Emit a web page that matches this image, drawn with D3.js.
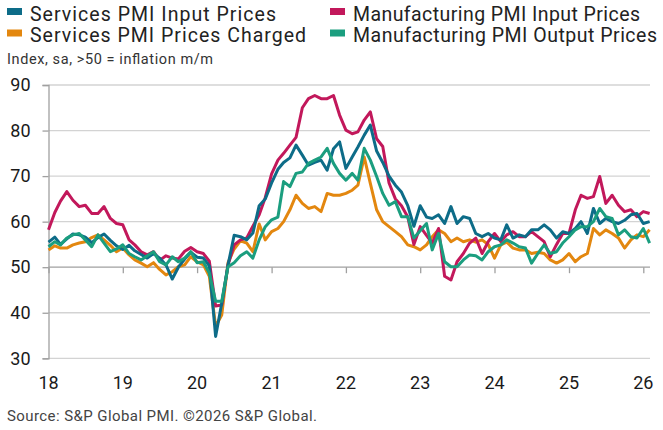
<!DOCTYPE html>
<html>
<head>
<meta charset="utf-8">
<script src="https://cdn.jsdelivr.net/npm/d3@7"></script>
<style>
  html, body { margin: 0; padding: 0; background: #fff; }
  svg { display: block; }
  text { font-family: Roboto, "Noto Sans", sans-serif; }
</style>
</head>
<body>
<svg id="chart" width="663" height="430"></svg>
<script>
// ---- Data (monthly, Jan 2018 .. Feb 2026) ----
const startMonth = "2018-01";
const yearTickLabels = ["18","19","20","21","22","23","24","25","26"];
const yTicks = [30, 40, 50, 60, 70, 80, 90];

const seriesNames = [
  "Services PMI Input Prices",
  "Manufacturing PMI Input Prices",
  "Services PMI Prices Charged",
  "Manufacturing PMI Output Prices"
];

const servicesInput = [
  55.5,56.6,55.0,56.2,57.3,57.1,56.6,55.4,56.5,57.3,55.9,54.7,
  53.9,54.8,53.6,52.8,52.0,53.0,52.0,50.5,47.4,50.0,51.8,53.3,
  52.2,52.0,50.3,34.8,42.1,50.5,57.0,56.7,56.0,57.5,63.5,65.0,
  68.5,71.5,73.0,74.0,76.8,74.6,72.4,73.0,73.5,71.3,76.0,77.5,
  71.7,74.2,76.4,79.0,81.2,75.5,73.0,70.0,68.0,66.5,63.5,59.0,
  63.5,61.0,60.7,61.5,59.6,63.3,59.6,61.1,60.7,57.4,56.7,57.4,
  56.4,56.0,59.3,56.4,57.1,56.7,58.2,58.2,59.3,58.2,56.4,57.8,
  57.4,58.5,60.0,57.4,62.9,59.6,60.7,60.0,59.6,60.3,61.5,61.8,
  59.6,60.0
];
const mfgInput = [
  58.2,62.0,64.5,66.6,64.7,63.3,63.6,61.8,61.8,63.3,60.7,59.6,
  59.3,56.0,54.9,53.4,52.7,53.4,51.5,52.5,52.0,51.8,53.5,54.3,
  53.4,53.0,51.3,41.5,41.7,50.5,54.9,56.0,56.4,59.0,61.5,65.3,
  70.5,73.5,75.0,76.8,78.5,85.0,87.0,87.7,87.0,87.0,87.7,83.4,
  80.1,79.3,79.7,82.3,84.1,78.2,76.5,68.5,65.0,63.5,61.0,55.0,
  58.9,57.0,55.3,58.5,48.0,47.2,51.2,53.0,55.3,56.4,53.0,55.6,
  57.4,55.6,57.1,57.8,56.7,56.7,57.8,56.7,55.6,52.3,55.0,57.4,
  57.4,62.6,65.8,65.1,65.5,69.9,64.0,65.8,63.6,62.2,62.6,61.1,
  62.2,61.8
];
const servicesCharged = [
  53.8,54.7,54.2,54.2,54.9,55.3,55.6,56.5,57.1,56.0,54.8,53.4,
  54.2,52.7,51.6,50.9,50.1,51.0,49.5,48.3,49.0,50.1,50.5,52.3,
  51.2,50.5,48.0,37.0,39.5,51.0,54.0,55.8,55.3,53.4,59.5,56.0,
  57.8,58.5,60.0,62.6,65.8,64.0,62.9,63.3,62.2,66.2,65.8,65.8,
  66.2,66.9,68.0,74.2,68.4,62.6,60.0,58.9,57.8,56.7,54.9,54.5,
  53.8,54.9,56.7,58.2,57.4,55.6,56.4,55.6,56.0,55.5,56.0,55.0,
  52.0,54.9,55.5,54.2,53.8,53.8,53.0,53.3,53.0,51.6,50.9,51.6,
  53.0,51.2,52.3,53.0,58.5,57.1,58.2,57.4,56.4,54.2,56.0,57.1,
  56.7,58.2
];
const mfgOutput = [
  54.5,55.6,54.9,56.4,57.1,57.4,56.0,54.5,57.1,55.3,53.4,54.0,
  54.9,53.0,52.3,51.6,52.5,53.4,51.2,50.5,52.3,51.2,52.0,53.4,
  51.0,51.2,48.7,42.5,42.5,50.1,51.0,52.5,53.4,52.0,56.0,58.9,
  60.4,61.0,68.8,67.7,70.6,70.9,72.8,73.5,74.2,76.1,72.8,70.6,
  69.1,70.6,69.1,76.1,73.5,69.9,66.2,63.6,64.4,61.1,61.1,56.4,
  58.0,59.6,53.8,57.4,51.2,50.1,50.1,51.6,52.7,52.5,51.6,53.4,
  54.5,54.9,56.0,55.3,54.5,54.2,50.9,53.0,54.9,53.0,53.4,55.3,
  56.7,58.2,58.9,58.9,60.0,62.9,61.1,60.7,57.1,58.2,56.7,56.4,
  58.5,55.3
];

const colors = ["#0d6c88", "#c2185b", "#e3870f", "#1b9e7f"];

// ---- Build ----
const parse = d3.timeParse("%Y-%m");
const start = parse(startMonth);
const months = servicesInput.map((_, i) => d3.timeMonth.offset(start, i));
const seriesValues = [servicesInput, mfgInput, servicesCharged, mfgOutput];

const svg = d3.select("#chart");
const left = 48.5, right = 650;
const x = d3.scaleTime()
  .domain([parse("2018-01"), parse("2026-01")])
  .range([left, 643.3]);
const y = d3.scaleLinear().domain([30, 90]).range([358.3, 85]);

// gridlines
svg.append("g").selectAll("line")
  .data(yTicks.filter(v => v !== 50))
  .join("line")
  .attr("x1", left).attr("x2", right)
  .attr("y1", d => y(d)).attr("y2", d => y(d))
  .attr("stroke", "#d3d3d3").attr("stroke-width", 1.3);

// y axis
const yAxis = d3.axisLeft(y).tickValues(yTicks).tickSize(6).tickPadding(12)
  .tickFormat(d3.format("d"));
const gy = svg.append("g").attr("transform", `translate(${left},0)`).call(yAxis);
gy.select(".domain").attr("stroke", "#a0a0a0").attr("stroke-width", 1.3);
gy.selectAll(".tick line").attr("stroke", "#a0a0a0").attr("stroke-width", 1.3);
gy.selectAll(".tick text").attr("font-size", 18).attr("fill", "#1a1a1a")
  .attr("font-family", "Roboto, sans-serif");

// x axis at 50 line (ticks only), labels at bottom
const yearDates = yearTickLabels.map(l => parse("20" + l + "-01"));
const xAxis = d3.axisBottom(x).tickValues(yearDates).tickSize(6).tickFormat("");
const gx = svg.append("g").attr("transform", `translate(0,${y(50)})`).call(xAxis);
gx.select(".domain").attr("d", `M${left},0H${right}`)
  .attr("stroke", "#a0a0a0").attr("stroke-width", 1.3);
gx.selectAll(".tick line").attr("stroke", "#a0a0a0").attr("stroke-width", 1.3);

svg.append("g").selectAll("text")
  .data(yearDates)
  .join("text")
  .attr("x", d => x(d))
  .attr("y", 389)
  .attr("text-anchor", "middle")
  .attr("font-size", 18)
  .attr("fill", "#1a1a1a")
  .text((d, i) => yearTickLabels[i]);

// lines
const line = d3.line()
  .x((d, i) => x(months[i]))
  .y(d => y(d));
const drawOrder = [2, 1, 0, 3];
svg.append("g").selectAll("path")
  .data(drawOrder)
  .join("path")
  .attr("d", k => line(seriesValues[k]))
  .attr("fill", "none")
  .attr("stroke", k => colors[k])
  .attr("stroke-width", 3)
  .attr("stroke-linejoin", "round");

// legend
const legendPos = [
  {x: 7, y: 20.5, w: 246}, {x: 330, y: 20.5, w: 287},
  {x: 7, y: 42, w: 276}, {x: 330, y: 42, w: 304}
];
const lg = svg.append("g").selectAll("g")
  .data(seriesNames)
  .join("g")
  .attr("transform", (d, i) => `translate(${legendPos[i].x},${legendPos[i].y})`);
lg.append("rect").attr("x", 0).attr("y", -12.5).attr("width", 15).attr("height", 7)
  .attr("fill", (d, i) => colors[i]);
lg.append("text").attr("x", 23).attr("y", 0)
  .attr("font-size", 19.5).attr("fill", "#222")
  .attr("textLength", (d, i) => legendPos[i].w)
  .attr("lengthAdjust", "spacing")
  .text(d => d);

// subtitle & source
svg.append("text").attr("x", 7).attr("y", 64).attr("font-size", 14.5)
  .attr("fill", "#333").attr("textLength", 206).attr("lengthAdjust", "spacing")
  .text("Index, sa, >50 = inflation m/m");
svg.append("text").attr("x", 7).attr("y", 421).attr("font-size", 15)
  .attr("fill", "#444").attr("textLength", 310).attr("lengthAdjust", "spacing")
  .text("Source: S&P Global PMI. ©2026 S&P Global.");
</script>
</body>
</html>
